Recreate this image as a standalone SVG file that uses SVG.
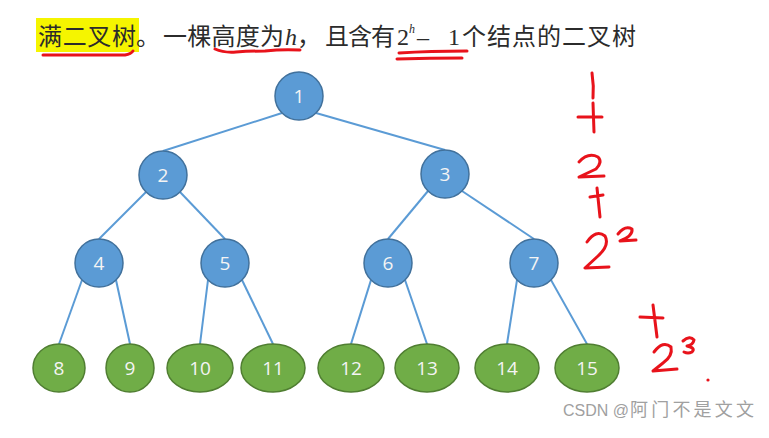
<svg xmlns="http://www.w3.org/2000/svg" width="769" height="438" viewBox="0 0 769 438">
<defs>
<style>
.cjk{font-family:"Noto Sans CJK SC","Liberation Sans",sans-serif;font-size:24px;fill:#2b2b2b}
.ser{font-family:"Liberation Serif",serif;font-size:24px;fill:#2b2b2b}
.sup{font-family:"Liberation Serif",serif;font-size:12px;font-style:italic;fill:#2b2b2b}
.edge{stroke:#5b9bd5;stroke-width:2;fill:none}
.inner{fill:#5b9bd5;stroke:#41719c;stroke-width:1.5}
.leaf{fill:#70ad47;stroke:#507e32;stroke-width:1.5}
.lbl{font-family:"Open Sans","Liberation Sans",sans-serif;font-size:19px;fill:#f4f4f4;text-anchor:middle;dominant-baseline:central}
.ink{stroke:#e8131b;stroke-width:3;fill:none;stroke-linecap:round;stroke-linejoin:round}
.wm{fill:#a0a0a0}
</style>
</defs>
<rect width="769" height="438" fill="#ffffff"/>
<g id="title">
<rect x="36" y="18" width="103" height="34" fill="#f5f500"/>
<text class="cjk" x="38" y="45" textLength="98" lengthAdjust="spacing">满二叉树</text>
<text class="cjk" x="136" y="45">。</text>
<text class="cjk" x="163" y="45" textLength="121" lengthAdjust="spacing">一棵高度为</text>
<text class="ser" x="285" y="45" font-style="italic">h</text>
<text class="cjk" x="297" y="45">，</text>
<text class="cjk" x="325" y="45" textLength="70" lengthAdjust="spacing">且含有</text>
<text class="ser" x="397" y="45">2</text>
<text class="sup" x="409" y="33">h</text>
<text class="ser" x="417" y="45">–</text>
<text class="ser" x="448" y="45">1</text>
<text class="cjk" x="462" y="45" textLength="174" lengthAdjust="spacing">个结点的二叉树</text>
</g>
<g id="annotations">
<path class="ink" stroke-width="2.5" d="M43,55 L125,55 Q131,54 133,51"/>
<path class="ink" d="M215,49 Q224,53 236,52 Q250,51 265,51 Q282,49 300,50"/>
<path class="ink" stroke-width="4" d="M399,53 Q430,51 467,51"/>
<path class="ink" stroke-width="4" d="M397,59 Q430,58 462,58"/>
<path class="ink" d="M592,73 Q594,86 593,98"/>
<path class="ink" d="M578,117 L602,117 M593,103 L594,132"/>
<path class="ink" stroke-width="4" d="M579,162 Q588,152 598,157 Q603,162 596,169 L579,177 L604,176"/>
<path class="ink" d="M590,197 L603,195 M597,188 L600,217"/>
<path class="ink" d="M587,242 Q596,229 605,236 Q610,245 598,256 L585,268 L609,267"/>
<path class="ink" d="M618,234 Q625,225 632,229 Q633,236 620,241 L636,240"/>
<path class="ink" d="M640,317 L663,318 M653,305 L657,337"/>
<path class="ink" d="M654,352 Q663,340 671,347 Q673,356 663,363 L653,371 L677,369"/>
<path class="ink" d="M683,341 Q690,335 694,340 Q693,345 687,346 Q696,348 692,352 Q688,354 684,352"/>
<circle cx="708" cy="380" r="1.6" fill="#e8131b"/>
</g>
<g id="connectors">
<line class="edge" x1="282" y1="113" x2="163" y2="151"/>
<line class="edge" x1="316" y1="113" x2="445" y2="150"/>
<line class="edge" x1="146" y1="192" x2="99" y2="239"/>
<line class="edge" x1="180" y1="192" x2="225" y2="239"/>
<line class="edge" x1="428" y1="191" x2="388" y2="239"/>
<line class="edge" x1="462" y1="191" x2="534" y2="239"/>
<line class="edge" x1="82" y1="280" x2="59" y2="344"/>
<line class="edge" x1="116" y1="280" x2="130" y2="344"/>
<line class="edge" x1="208" y1="280" x2="200" y2="344"/>
<line class="edge" x1="242" y1="280" x2="273" y2="344"/>
<line class="edge" x1="371" y1="280" x2="351" y2="344"/>
<line class="edge" x1="405" y1="280" x2="427" y2="344"/>
<line class="edge" x1="517" y1="280" x2="507" y2="344"/>
<line class="edge" x1="551" y1="280" x2="587" y2="344"/>
</g>
<g id="n1"><circle class="inner" cx="299" cy="96" r="24"/><text class="lbl" x="299" y="96">1</text></g>
<g id="n2"><circle class="inner" cx="163" cy="175" r="24"/><text class="lbl" x="163" y="175">2</text></g>
<g id="n3"><circle class="inner" cx="445" cy="174" r="24"/><text class="lbl" x="445" y="174">3</text></g>
<g id="n4"><circle class="inner" cx="99" cy="263" r="24"/><text class="lbl" x="99" y="263">4</text></g>
<g id="n5"><circle class="inner" cx="225" cy="263" r="24"/><text class="lbl" x="225" y="263">5</text></g>
<g id="n6"><circle class="inner" cx="388" cy="263" r="24"/><text class="lbl" x="388" y="263">6</text></g>
<g id="n7"><circle class="inner" cx="534" cy="263" r="24"/><text class="lbl" x="534" y="263">7</text></g>
<g id="n8"><ellipse class="leaf" cx="59" cy="368" rx="26" ry="24"/><text class="lbl" x="59" y="368">8</text></g>
<g id="n9"><ellipse class="leaf" cx="130" cy="368" rx="24" ry="24"/><text class="lbl" x="130" y="368">9</text></g>
<g id="n10"><ellipse class="leaf" cx="200" cy="368" rx="33" ry="24"/><text class="lbl" x="200" y="368">10</text></g>
<g id="n11"><ellipse class="leaf" cx="273" cy="368" rx="32" ry="24"/><text class="lbl" x="273" y="368">11</text></g>
<g id="n12"><ellipse class="leaf" cx="351" cy="368" rx="33" ry="24"/><text class="lbl" x="351" y="368">12</text></g>
<g id="n13"><ellipse class="leaf" cx="427" cy="368" rx="32" ry="24"/><text class="lbl" x="427" y="368">13</text></g>
<g id="n14"><ellipse class="leaf" cx="507" cy="368" rx="32" ry="24"/><text class="lbl" x="507" y="368">14</text></g>
<g id="n15"><ellipse class="leaf" cx="587" cy="368" rx="32" ry="24"/><text class="lbl" x="587" y="368">15</text></g>
<g id="watermark">
<text class="wm" x="563" y="416" font-family="Liberation Sans,sans-serif" font-size="16">CSDN @</text>
<text class="wm" x="630" y="416" font-family="Noto Sans CJK SC,sans-serif" font-size="18" textLength="124" lengthAdjust="spacing">阿门不是文文</text>
</g>
</svg>
